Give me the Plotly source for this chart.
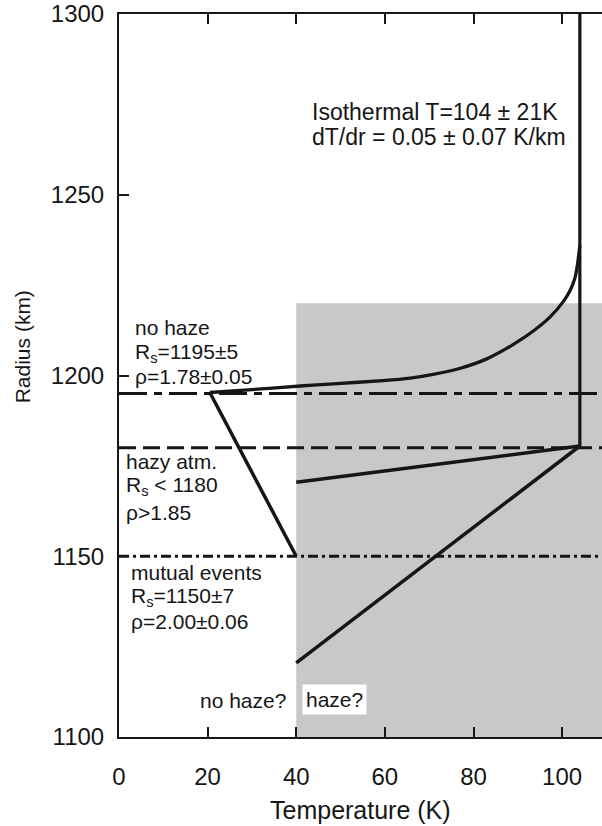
import plotly.graph_objects as go

# ---- data ----
iso_T = [104, 104]
iso_R = [1300, 1180]

nohaze_curve_T = [104, 103.5, 102.9, 101.8, 100.3, 97.3, 93.5, 89, 83, 77, 70.9, 65.7, 59.6, 48.4, 40.9, 30, 20.5]
nohaze_curve_R = [1236, 1231, 1227, 1223.5, 1220.5, 1216.2, 1212.3, 1208.6, 1204.6, 1202.0, 1200.3, 1199.3, 1198.6, 1197.7, 1197.1, 1196.1, 1195.3]

nohaze_drop_T = [20.5, 40]
nohaze_drop_R = [1195.3, 1150]

hazy_T = [40, 104]
hazy_R = [1170.5, 1180.5]

mutual_T = [40, 104]
mutual_R = [1120.5, 1180.5]

level_R = [1195, 1180, 1150]
level_dash = ["28px,7px,8px,7px", "17px,7px", "10px,4px,3px,4px"]
level_width = [3, 3, 2.8]

haze_T = [40, 109]
haze_R = [1100, 1220]

x_ticks = [0, 20, 40, 60, 80, 100]
y_ticks = [1100, 1150, 1200, 1250, 1300]

FONT = "Liberation Sans, Arial, Helvetica, sans-serif"
INK = "#161616"

fig = go.Figure()

# shaded haze region
fig.add_shape(type="rect", xref="x", yref="y",
              x0=haze_T[0], x1=haze_T[1], y0=haze_R[0], y1=haze_R[1],
              fillcolor="#c8c8c8", line=dict(width=0), layer="below")

# horizontal reference levels
for r, d, w in zip(level_R, level_dash, level_width):
    fig.add_trace(go.Scatter(x=[0, 109], y=[r, r], mode="lines",
                             line=dict(color=INK, width=w, dash=d),
                             hoverinfo="skip", showlegend=False))

fig.add_trace(go.Scatter(x=iso_T, y=iso_R, mode="lines",
                         line=dict(color=INK, width=3.2), showlegend=False))
fig.add_trace(go.Scatter(x=nohaze_curve_T, y=nohaze_curve_R, mode="lines",
                         line=dict(color=INK, width=3.3, shape="spline", smoothing=0.6),
                         showlegend=False))
fig.add_trace(go.Scatter(x=nohaze_drop_T, y=nohaze_drop_R, mode="lines",
                         line=dict(color=INK, width=3.5), showlegend=False))
fig.add_trace(go.Scatter(x=hazy_T, y=hazy_R, mode="lines",
                         line=dict(color=INK, width=3.5), showlegend=False))
fig.add_trace(go.Scatter(x=mutual_T, y=mutual_R, mode="lines",
                         line=dict(color=INK, width=3.5), showlegend=False))

ann_font = dict(family=FONT, size=21, color=INK)
left_notes = [
    ("no haze", 3.1, 1213.2),
    ("R<sub>s</sub>=1195±5", 3.1, 1206.3),
    ("ρ=1.78±0.05", 3.1, 1199.7),
    ("hazy atm.", 1.1, 1176.2),
    ("R<sub>s</sub> &lt; 1180", 1.1, 1169.4),
    ("ρ>1.85", 1.1, 1162.1),
    ("mutual events", 2.2, 1145.5),
    ("R<sub>s</sub>=1150±7", 2.2, 1138.7),
    ("ρ=2.00±0.06", 2.2, 1131.9),
]
for txt, x, y in left_notes:
    fig.add_annotation(x=x, y=y, xref="x", yref="y", text=txt, showarrow=False,
                       xanchor="left", yanchor="middle", font=ann_font)

fig.add_annotation(x=38.1, y=1110.2, text="no haze?", showarrow=False,
                   xanchor="right", yanchor="middle", font=ann_font)
fig.add_annotation(x=41.2, y=1110.5, text="haze?", showarrow=False,
                   xanchor="left", yanchor="middle", font=ann_font,
                   bgcolor="white", borderpad=3)

iso_font = dict(family=FONT, size=23, color=INK)
fig.add_annotation(x=43.1, y=1272.9, text="Isothermal T=104 ± 21K", showarrow=False,
                   xanchor="left", yanchor="middle", font=iso_font)
fig.add_annotation(x=43.1, y=1266.0, text="dT/dr = 0.05 ± 0.07 K/km", showarrow=False,
                   xanchor="left", yanchor="middle", font=iso_font)

# axis titles
fig.add_annotation(x=-0.2008, y=0.539, xref="paper", yref="paper", text="Radius (km)",
                   textangle=-90, showarrow=False, xanchor="center", yanchor="middle",
                   font=dict(family=FONT, size=21, color=INK))
fig.add_annotation(x=0.499, y=-0.101, xref="paper", yref="paper", text="Temperature (K)",
                   showarrow=False, xanchor="center", yanchor="middle",
                   font=dict(family=FONT, size=25, color=INK))

axis_common = dict(showgrid=False, zeroline=False, showline=True, linecolor=INK,
                   linewidth=2, ticks="inside", ticklen=10, tickwidth=2, tickcolor=INK,
                   tickfont=dict(family=FONT, size=24, color=INK))

fig.update_xaxes(range=[0, 109], tickvals=x_ticks, mirror="ticks",
                 ticklabelstandoff=17, **axis_common)
fig.update_yaxes(range=[1100, 1300], tickvals=y_ticks, mirror=False,
                 ticklabelstandoff=8, **axis_common)

fig.update_layout(width=602, height=826,
                  margin=dict(l=119, r=0, t=14, b=89, pad=0),
                  plot_bgcolor="white", paper_bgcolor="white",
                  showlegend=False)

fig.write_html("out.html")
